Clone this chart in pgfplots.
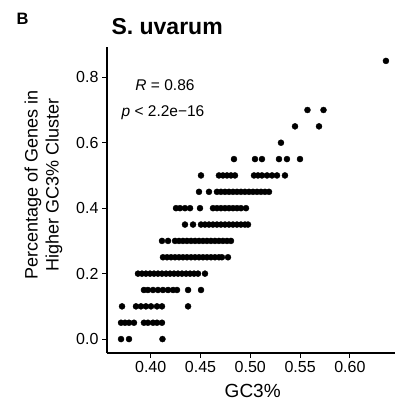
\documentclass[border=0pt]{standalone}
\usepackage{pgfplots}
\pgfplotsset{compat=1.18}
\usepackage{fontspec}
\setmainfont{Liberation Sans}
\begin{document}
\begin{tikzpicture}
\path[use as bounding box] (-107pt,-51pt) rectangle (288pt,353pt);
\begin{axis}[
  at={(0pt,0pt)}, anchor=south west,
  width=288pt, height=306pt, scale only axis,
  xmin=0.3561, xmax=0.6453, ymin=-0.0425, ymax=0.8925,
  axis x line*=bottom, axis y line*=left,
  axis line style={-, line width=1.1pt, black},
  tick align=outside, major tick length=5pt,
  every tick/.style={black, line width=1.1pt},
  xtick={0.40,0.45,0.50,0.55,0.60},
  ytick={0,0.2,0.4,0.6,0.8},
  xticklabel style={font=\fontsize{16}{16}\selectfont, /pgf/number format/.cd, fixed, fixed zerofill, precision=2, assume math mode=true},
  yticklabel style={font=\fontsize{16}{16}\selectfont, /pgf/number format/.cd, fixed, fixed zerofill, precision=1, assume math mode=true},
  clip=false,
]
\addplot[only marks, mark=*, mark size=3pt, black] table {
x y
0.3702 0.0
0.3782 0.0
0.4118 0.0
0.3702 0.05
0.3742 0.05
0.3782 0.05
0.3832 0.05
0.3932 0.05
0.3972 0.05
0.4023 0.05
0.4063 0.05
0.4113 0.05
0.3712 0.1
0.3852 0.1
0.3902 0.1
0.3952 0.1
0.4003 0.1
0.4063 0.1
0.4113 0.1
0.4375 0.1
0.3932 0.15
0.3972 0.15
0.4023 0.15
0.4073 0.15
0.4123 0.15
0.4174 0.15
0.4224 0.15
0.4264 0.15
0.4375 0.15
0.4505 0.15
0.3872 0.2
0.3912 0.2
0.3952 0.2
0.3993 0.2
0.4033 0.2
0.4073 0.2
0.4113 0.2
0.4154 0.2
0.4194 0.2
0.4234 0.2
0.4274 0.2
0.4314 0.2
0.4355 0.2
0.4395 0.2
0.4435 0.2
0.4475 0.2
0.4545 0.2
0.4123 0.25
0.4164 0.25
0.4204 0.25
0.4244 0.25
0.4284 0.25
0.4324 0.25
0.4364 0.25
0.4405 0.25
0.4445 0.25
0.4485 0.25
0.4525 0.25
0.4565 0.25
0.4605 0.25
0.4645 0.25
0.4685 0.25
0.4715 0.25
0.4776 0.25
0.4113 0.3
0.4174 0.3
0.4244 0.3
0.4284 0.3
0.4324 0.3
0.4364 0.3
0.4405 0.3
0.4445 0.3
0.4485 0.3
0.4525 0.3
0.4565 0.3
0.4605 0.3
0.4645 0.3
0.4685 0.3
0.4725 0.3
0.4766 0.3
0.4806 0.3
0.4344 0.35
0.4425 0.35
0.4505 0.35
0.4545 0.35
0.4585 0.35
0.4625 0.35
0.4665 0.35
0.4705 0.35
0.4746 0.35
0.4786 0.35
0.4826 0.35
0.4866 0.35
0.4906 0.35
0.4946 0.35
0.4977 0.35
0.4254 0.4
0.4294 0.4
0.4344 0.4
0.4395 0.4
0.4495 0.4
0.4625 0.4
0.4665 0.4
0.4705 0.4
0.4746 0.4
0.4786 0.4
0.4826 0.4
0.4866 0.4
0.4906 0.4
0.4957 0.4
0.4485 0.45
0.4585 0.45
0.4665 0.45
0.4705 0.45
0.4746 0.45
0.4786 0.45
0.4826 0.45
0.4866 0.45
0.4906 0.45
0.4946 0.45
0.4987 0.45
0.5027 0.45
0.5067 0.45
0.5107 0.45
0.5147 0.45
0.5188 0.45
0.4505 0.5
0.4685 0.5
0.4725 0.5
0.4766 0.5
0.4806 0.5
0.4846 0.5
0.5037 0.5
0.5077 0.5
0.5117 0.5
0.5168 0.5
0.5218 0.5
0.5268 0.5
0.5348 0.5
0.4836 0.55
0.5047 0.55
0.5117 0.55
0.5288 0.55
0.5368 0.55
0.5499 0.55
0.5308 0.6
0.5449 0.65
0.5690 0.65
0.5574 0.7
0.5735 0.7
0.6362 0.85
};
\end{axis}
\node[anchor=base west, font=\bfseries\fontsize{16.5}{16.5}\selectfont] at (-94pt,328pt) {B};
\node[anchor=base west, font=\bfseries\fontsize{23}{23}\selectfont] at (1pt,318pt) {S. uvarum};
\node[rotate=90, align=center, font=\fontsize{18}{21}\selectfont] at (-63.5pt,168pt) {Percentage of Genes in\\Higher GC3\% Cluster};
\node[anchor=base, font=\fontsize{19}{19}\selectfont] at (145.7pt,-45pt) {GC3\%};
\node[font=\fontsize{15.5}{15.5}\selectfont] at (58pt,268pt) {\textit{R} = 0.86};
\node[font=\fontsize{15.5}{15.5}\selectfont] at (56pt,240pt) {\textit{p} < 2.2e−16};
\end{tikzpicture}
\end{document}
